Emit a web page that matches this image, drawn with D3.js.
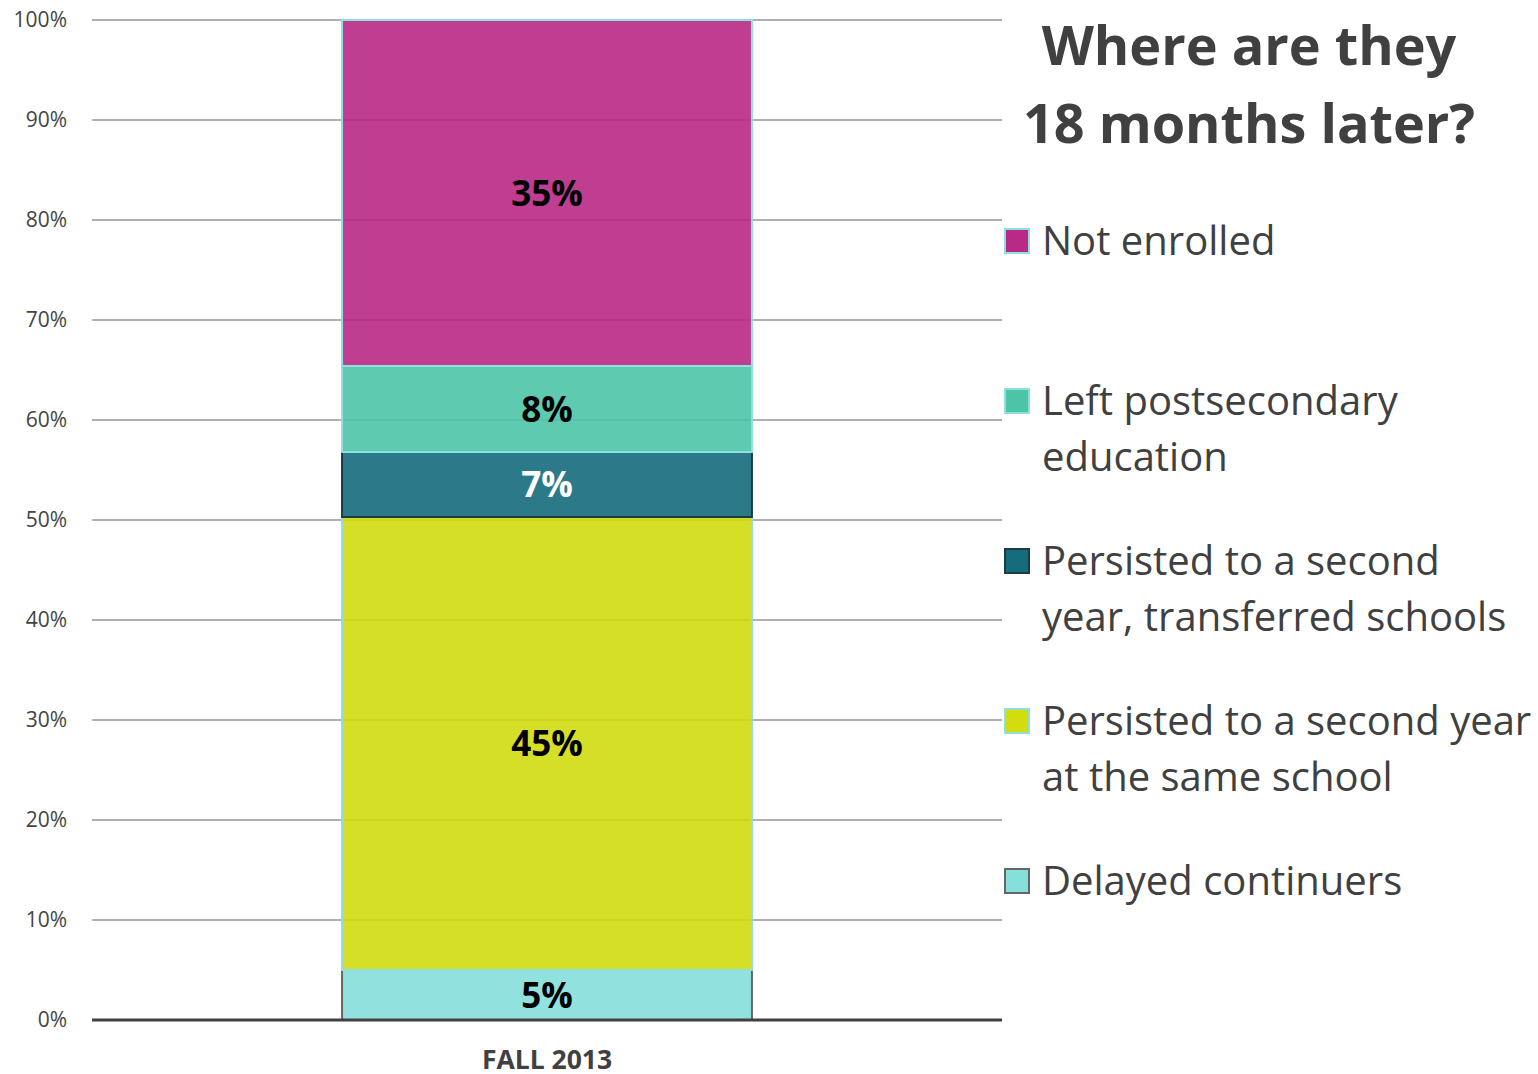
<!DOCTYPE html>
<html>
<head>
<meta charset="UTF-8">
<title>Where are they 18 months later?</title>
<style>
    body { margin: 0; background: #fff; }
    .tick text { font: 21px "Open Sans", sans-serif; fill: #444; }
    .legend text { font: 40px "Open Sans", sans-serif; fill: #404040; }
    .title { font: bold 54px "Open Sans", sans-serif; fill: #404040; }
    .cat text { font: bold 26.5px "Open Sans", sans-serif; fill: #404040; }
    .lbl { font: bold 35px "Open Sans", sans-serif; }
</style>
</head>
<body>
<script src="https://cdn.jsdelivr.net/npm/d3@7"></script>
<script>
    // data, bottom to top
    var categories = ["FALL 2013"];
    var series = ["Delayed continuers", "Persisted to a second year at the same school",
                  "Persisted to a second year, transferred schools", "Left postsecondary education", "Not enrolled"];
    var values = [5.0, 45.3, 6.5, 8.6, 34.6];
    var labels = ["5%", "45%", "7%", "8%", "35%"];
    var legendLines = [
        ["Not enrolled"],
        ["Left postsecondary", "education"],
        ["Persisted to a second", "year, transferred schools"],
        ["Persisted to a second year", "at the same school"],
        ["Delayed continuers"]
    ];
    var yTicks = [0, 10, 20, 30, 40, 50, 60, 70, 80, 90, 100];

    var fills = ["#85dfdb", "#d2dc0f", "#156c7c", "#4cc5a7", "#b92986"];
    var strokes = ["#666", "#8ee0e0", "#1c3c42", "#8ee0e0", "#8ee0e0"];
    var labelColors = ["#000", "#000", "#fff", "#000", "#000"];

    var W = 1538, H = 1074;
    var svg = d3.select("body").append("svg").attr("width", W).attr("height", H);

    var x = d3.scaleBand().domain(categories).range([92, 1002]).paddingInner(0).paddingOuter(0.61);
    var y = d3.scaleLinear().domain([0, 100]).range([1020, 20]);

    // grid
    svg.append("g").selectAll("line").data(yTicks).join("line")
        .attr("x1", 92).attr("x2", 1002)
        .attr("y1", function (d) { return y(d); }).attr("y2", function (d) { return y(d); })
        .attr("stroke", "#b0b0b0").attr("stroke-width", 2);

    var yAxis = d3.axisLeft(y).tickValues(yTicks).tickSize(0).tickPadding(0)
        .tickFormat(function (d) { return d + "%"; });
    svg.append("g").attr("transform", "translate(67,0)").call(yAxis)
        .call(function (g) { g.select(".domain").remove(); });

    // stacked segments
    var stack = [];
    var acc = 0;
    values.forEach(function (v, i) {
        stack.push({ y0: acc, y1: acc + v, i: i });
        acc += v;
    });

    var bars = svg.append("g");
    bars.selectAll("rect").data(stack).join("rect")
        .attr("x", x(categories[0]))
        .attr("width", x.bandwidth())
        .attr("y", function (d) { return y(d.y1); })
        .attr("height", function (d) { return y(d.y0) - y(d.y1); })
        .attr("fill", function (d) { return fills[d.i]; })
        .attr("fill-opacity", 0.9)
        .attr("stroke", function (d) { return strokes[d.i]; })
        .attr("stroke-width", 2);

    bars.selectAll("text").data(stack).join("text")
        .attr("class", "lbl")
        .attr("x", x(categories[0]) + x.bandwidth() / 2)
        .attr("y", function (d) { return y((d.y0 + d.y1) / 2); })
        .attr("dy", "0.36em")
        .attr("text-anchor", "middle")
        .attr("fill", function (d) { return labelColors[d.i]; })
        .text(function (d) { return labels[d.i]; });

    // baseline
    svg.append("line").attr("x1", 92).attr("x2", 1002).attr("y1", y(0)).attr("y2", y(0))
        .attr("stroke", "#404040").attr("stroke-width", 3);

    var xAxis = d3.axisBottom(x).tickSize(0).tickPadding(0);
    svg.append("g").attr("class", "cat").attr("transform", "translate(0,1050)").call(xAxis)
        .call(function (g) { g.select(".domain").remove(); });

    // title
    svg.append("text").attr("class", "title").attr("x", 1249).attr("y", 65)
        .attr("text-anchor", "middle").text("Where are they");
    svg.append("text").attr("class", "title").attr("x", 1249).attr("y", 143)
        .attr("text-anchor", "middle").text("18 months later?");

    // legend, top entry is last series
    var lg = svg.append("g").attr("class", "legend");
    legendLines.forEach(function (lines, k) {
        var idx = series.length - 1 - k;
        var cy = 241 + k * 160;
        lg.append("rect").attr("x", 1005).attr("y", cy - 12).attr("width", 24).attr("height", 24)
            .attr("fill", fills[idx]).attr("stroke", strokes[idx]).attr("stroke-width", 2);
        lines.forEach(function (t, j) {
            lg.append("text").attr("x", 1042).attr("y", cy + j * 56).attr("dy", "0.36em").text(t);
        });
    });
</script>
</body>
</html>
